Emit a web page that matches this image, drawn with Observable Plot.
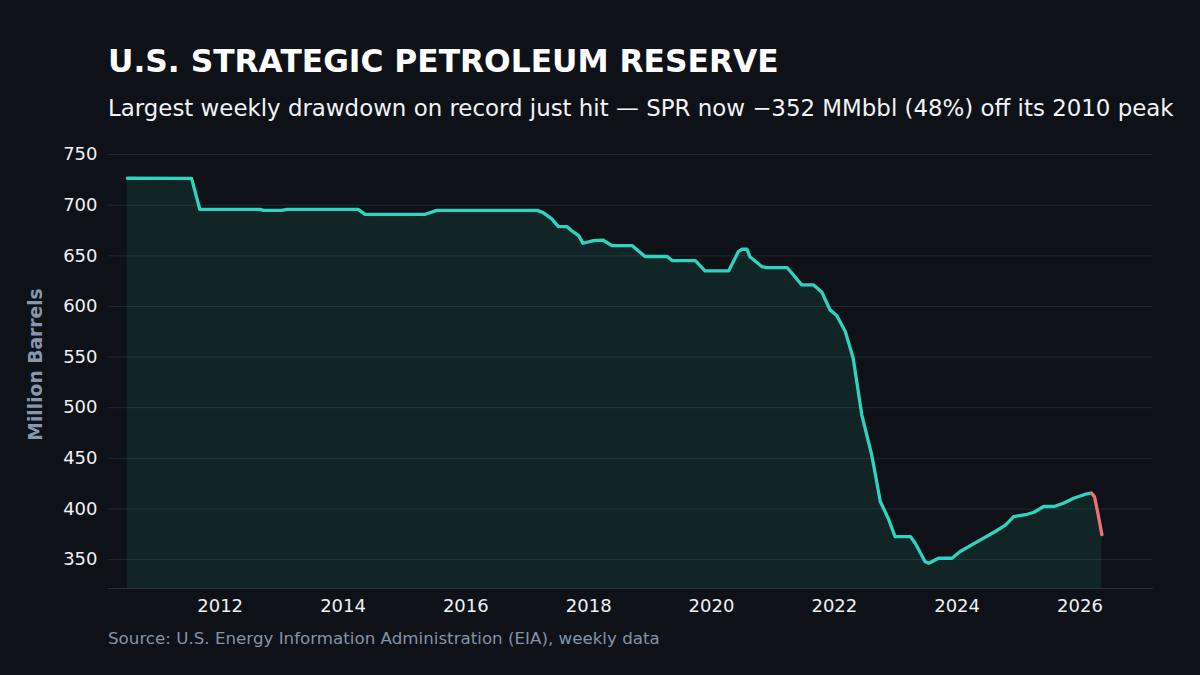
<!DOCTYPE html>
<html>
<head>
<meta charset="utf-8">
<script src="https://cdn.jsdelivr.net/npm/d3@7"></script>
<script src="https://cdn.jsdelivr.net/npm/@observablehq/plot@0.6"></script>
<style>
  html, body { margin: 0; padding: 0; }
  body {
    background: #0e1117;
    width: 1200px;
    height: 675px;
    overflow: hidden;
    position: relative;
    font-family: "DejaVu Sans", sans-serif;
  }
  .title {
    position: absolute; left: 108px; top: 45.5px;
    font-size: 31.3px; line-height: 1; font-weight: bold; color: #ffffff;
    white-space: nowrap;
  }
  .subtitle {
    position: absolute; left: 108px; top: 96.8px;
    font-size: 22.9px; line-height: 1; color: #f2f4f7;
    white-space: nowrap;
  }
  .source {
    position: absolute; left: 108px; top: 630px;
    font-size: 16.7px; line-height: 1; color: #8593a8;
    white-space: nowrap;
  }
  #chart { position: absolute; left: 0; top: 130px; }
  #chart svg { overflow: visible; }
  #chart g[aria-label="y-axis label"] text { font-weight: bold; fill: #8797ad; font-size: 18.7px; }
</style>
</head>
<body>
<div class="title">U.S. STRATEGIC PETROLEUM RESERVE</div>
<div class="subtitle">Largest weekly drawdown on record just hit — SPR now −352 MMbbl (48%) off its 2010 peak</div>
<div id="chart"></div>
<div class="source">Source: U.S. Energy Information Administration (EIA), weekly data</div>
<script>
// SPR inventory, million barrels
const dates = [
  "2010-06-28", "2011-07-15", "2011-09-02", "2012-08-24", "2012-09-14", "2013-01-01",
  "2013-02-01", "2014-04-01", "2014-05-12", "2015-05-05", "2015-07-13", "2017-03-01",
  "2017-04-05", "2017-05-26", "2017-07-05", "2017-08-25", "2017-09-23", "2017-11-02",
  "2017-11-28", "2018-01-30", "2018-03-28", "2018-05-19", "2018-09-16", "2018-12-02",
  "2019-04-13", "2019-05-12", "2019-09-27", "2019-11-24", "2020-04-12", "2020-06-09",
  "2020-07-01", "2020-07-30", "2020-08-17", "2020-10-26", "2020-11-24", "2021-03-26",
  "2021-06-21", "2021-08-29", "2021-10-19", "2021-12-06", "2022-01-15", "2022-03-07",
  "2022-04-23", "2022-06-13", "2022-08-11", "2022-09-02", "2022-10-01", "2022-11-17",
  "2022-12-28", "2023-03-29", "2023-04-27", "2023-06-24", "2023-07-16", "2023-09-12",
  "2023-12-02", "2024-01-19", "2024-05-19", "2024-08-15", "2024-10-16", "2024-12-02",
  "2025-02-21", "2025-04-02", "2025-05-30", "2025-07-31", "2025-09-24", "2025-11-24",
  "2026-02-02", "2026-03-10", "2026-03-28", "2026-04-19", "2026-05-11"
];
const barrels = [
  726.6, 726.5, 695.9, 695.9, 694.9, 694.9,
  695.9, 695.9, 691.0, 691.0, 694.9, 694.9,
  692.7, 686.5, 678.9, 678.9, 674.6, 670.0,
  662.4, 665.1, 665.4, 660.1, 660.1, 649.3,
  649.3, 645.3, 645.3, 635.1, 635.1, 654.2,
  656.5, 656.5, 649.0, 639.4, 638.4, 638.4,
  621.3, 621.3, 614.0, 596.6, 591.0, 575.2,
  548.8, 492.9, 453.4, 433.7, 407.3, 390.8,
  372.7, 372.7, 366.1, 348.1, 346.4, 351.3,
  351.3, 357.9, 369.4, 377.7, 384.3, 392.5,
  394.7, 396.7, 402.4, 402.4, 405.6, 410.5,
  414.5, 415.5, 412.2, 394.2, 374.6
];
// The record drawdown run begins here
const drawdownStart = "2026-03-10";

const yTicks = [350, 400, 450, 500, 550, 600, 650, 700, 750];
const xTickYears = [2012, 2014, 2016, 2018, 2020, 2022, 2024, 2026];

const parse = d3.utcParse("%Y-%m-%d");
const series = dates.map((d, i) => ({ date: parse(d), value: barrels[i] }));
const cut = parse(drawdownStart);
const before = series.filter(d => d.date <= cut);
const after = series.filter(d => d.date >= cut);

const yMin = 321.4;
const teal = "#2dd4bf";
const red = "#f07070";

const chart = Plot.plot({
  width: 1200,
  height: 490,
  marginLeft: 108,
  marginRight: 48,
  marginTop: 10,
  marginBottom: 32,
  style: { background: "transparent", color: "#eef1f5", fontSize: "18px", fontFamily: "DejaVu Sans, sans-serif" },
  x: {
    type: "utc",
    domain: [parse("2010-03-08"), parse("2027-03-08")]
  },
  y: { domain: [yMin, 763.9] },
  marks: [
    Plot.gridY(yTicks, { stroke: "#1f2a34", strokeOpacity: 1, strokeWidth: 1 }),
    Plot.areaY(series, { x: "date", y1: yMin, y2: "value", fill: teal, fillOpacity: 0.1 }),
    Plot.frame({ anchor: "bottom", stroke: "#26303b", strokeWidth: 1 }),
    Plot.lineY(before, { x: "date", y: "value", stroke: teal, strokeWidth: 3.3, strokeLinejoin: "round", strokeLinecap: "round" }),
    Plot.lineY(after, { x: "date", y: "value", stroke: red, strokeWidth: 3.3, strokeLinejoin: "round", strokeLinecap: "round" }),
    Plot.axisY({
      ticks: yTicks, tickSize: 0, tickPadding: 11,
      label: "Million Barrels", labelAnchor: "center", labelArrow: "none", labelOffset: 80
    }),
    Plot.axisX({
      ticks: xTickYears.map(y => new Date(Date.UTC(y, 0, 1))),
      tickFormat: d3.utcFormat("%Y"),
      tickSize: 0, tickPadding: 11, label: null
    })
  ]
});
document.getElementById("chart").appendChild(chart);
</script>
</body>
</html>
